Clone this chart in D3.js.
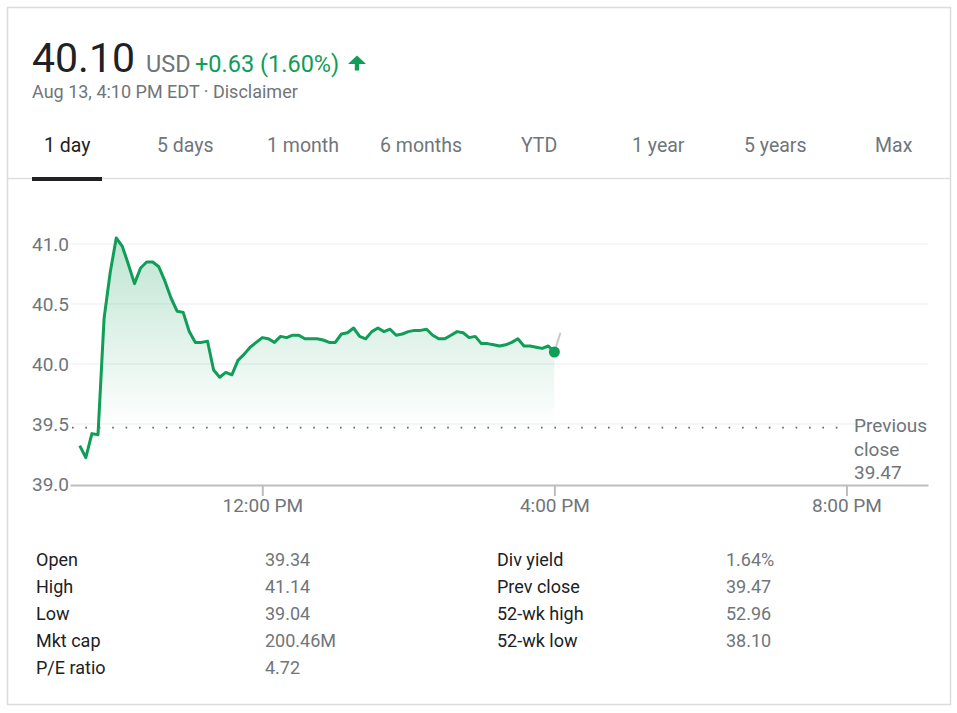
<!DOCTYPE html>
<html>
<head>
<meta charset="utf-8">
<script src="https://cdn.jsdelivr.net/npm/d3@7"></script>
<style>
  html, body { margin: 0; padding: 0; background: #fff; }
  svg { display: block; font-family: Roboto, "Noto Sans", Arial, sans-serif; }
</style>
</head>
<body>
<svg id="chart" width="957" height="713"></svg>
<script>
// ---------- DATA ----------
const quotePrice = "40.10";
const quoteCurrency = "USD";
const quoteChange = "+0.63 (1.60%)";
const quoteTime = "Aug 13, 4:10 PM EDT · Disclaimer";
const tabs = ["1 day", "5 days", "1 month", "6 months", "YTD", "1 year", "5 years", "Max"];

const times = ["09:30","09:35","09:40","09:45","09:50","09:55","10:00","10:05","10:10","10:15",
  "10:20","10:25","10:30","10:35","10:40","10:45","10:50","10:55","11:00","11:05",
  "11:10","11:15","11:20","11:25","11:30","11:35","11:40","11:45","11:50","11:55",
  "12:00","12:05","12:10","12:15","12:20","12:25","12:30","12:35","12:40","12:45",
  "12:50","12:55","13:00","13:05","13:10","13:15","13:20","13:25","13:30","13:35",
  "13:40","13:45","13:50","13:55","14:00","14:05","14:10","14:15","14:20","14:25",
  "14:30","14:35","14:40","14:45","14:50","14:55","15:00","15:05","15:10","15:15",
  "15:20","15:25","15:30","15:35","15:40","15:45","15:50","15:55","16:00"];
const prices = [39.32,39.22,39.42,39.41,40.38,40.76,41.05,40.98,40.83,40.67,
  40.80,40.85,40.85,40.81,40.69,40.55,40.44,40.43,40.27,40.18,
  40.18,40.19,39.95,39.89,39.93,39.91,40.03,40.08,40.14,40.18,
  40.22,40.21,40.18,40.23,40.22,40.24,40.24,40.21,40.21,40.21,
  40.20,40.18,40.18,40.25,40.26,40.30,40.23,40.21,40.27,40.30,
  40.27,40.29,40.24,40.25,40.27,40.28,40.28,40.29,40.24,40.21,
  40.21,40.24,40.27,40.26,40.22,40.23,40.17,40.17,40.16,40.15,
  40.16,40.18,40.21,40.15,40.15,40.14,40.13,40.15,40.10];
const afterTimes = ["16:00","16:05"];
const afterPrices = [40.10, 40.26];
const prevClose = 39.47;
const yTicks = [39.0, 39.5, 40.0, 40.5, 41.0];
const xTicks = ["12:00","16:00","20:00"];
const xDomain = ["09:22","21:07"];

const statsLeftLabels = ["Open","High","Low","Mkt cap","P/E ratio"];
const statsLeftValues = ["39.34","41.14","39.04","200.46M","4.72"];
const statsRightLabels = ["Div yield","Prev close","52-wk high","52-wk low"];
const statsRightValues = ["1.64%","39.47","52.96","38.10"];

// ---------- HELPERS ----------
const parseT = t => d3.timeParse("%Y-%m-%d %H:%M")("2019-08-13 " + t);
const green = "#0f9d58", gray = "#70757a", dark = "#202124";

const svg = d3.select("#chart");

// Card border
svg.append("rect").attr("x", 7.5).attr("y", 7.5).attr("width", 943).attr("height", 697)
  .attr("fill", "none").attr("stroke", "#dadce0").attr("stroke-width", 1.5);

// ---------- HEADER ----------
svg.append("text").attr("x", 32).attr("y", 72).attr("font-size", 41).attr("fill", dark).text(quotePrice);
svg.append("text").attr("x", 146).attr("y", 72).attr("font-size", 23.5).attr("fill", gray).text(quoteCurrency);
svg.append("text").attr("x", 195).attr("y", 72).attr("font-size", 23.5).attr("fill", green).text(quoteChange);
svg.append("path").attr("d", "M348,64 L357,55.5 L366,64 L359.2,64 L359.2,70.5 L354.8,70.5 L354.8,64 Z").attr("fill", green);
svg.append("text").attr("x", 32).attr("y", 98).attr("font-size", 18).attr("fill", gray).text(quoteTime);

// ---------- TABS ----------
const tabX = [44, 157, 267, 380, 521, 632, 744, 875];
svg.selectAll("text.tab").data(tabs).join("text").attr("class", "tab")
  .attr("x", (d, i) => tabX[i]).attr("y", 152).attr("font-size", 19.5)
  .attr("fill", (d, i) => i === 0 ? dark : gray).text(d => d);
svg.append("line").attr("x1", 8).attr("x2", 950).attr("y1", 178.5).attr("y2", 178.5)
  .attr("stroke", "#e0e0e0").attr("stroke-width", 1.5);
svg.append("rect").attr("x", 32).attr("y", 177).attr("width", 70).attr("height", 4).attr("fill", dark);

// ---------- CHART ----------
const x = d3.scaleTime().domain(xDomain.map(parseT)).range([70, 928]);
const y = d3.scaleLinear().domain([39, 41]).range([484, 244]);

const data = times.map((t, i) => ({ t: parseT(t), v: prices[i] }));
const after = afterTimes.map((t, i) => ({ t: parseT(t), v: afterPrices[i] }));

// gridlines
svg.append("g").selectAll("line").data(yTicks.filter(d => d > 39)).join("line")
  .attr("x1", 70).attr("x2", 928).attr("y1", d => y(d)).attr("y2", d => y(d))
  .attr("stroke", "#f1f3f4").attr("stroke-width", 1.5);

// y labels
svg.append("g").selectAll("text").data(yTicks).join("text")
  .attr("x", 32).attr("y", d => y(d) + 7).attr("font-size", 19).attr("fill", gray)
  .text(d => d3.format(".1f")(d));

// gradient
const defs = svg.append("defs");
const grad = defs.append("linearGradient").attr("id", "fillGrad")
  .attr("gradientUnits", "userSpaceOnUse")
  .attr("x1", 0).attr("x2", 0).attr("y1", y(d3.max(prices))).attr("y2", y(prevClose));
grad.append("stop").attr("offset", 0).attr("stop-color", green).attr("stop-opacity", 0.27);
grad.append("stop").attr("offset", 1).attr("stop-color", green).attr("stop-opacity", 0.0);

svg.append("path").datum(data)
  .attr("d", d3.area().x(d => x(d.t)).y0(y(prevClose)).y1(d => y(d.v)))
  .attr("fill", "url(#fillGrad)");

// previous close dotted line
svg.append("line").attr("x1", 72).attr("x2", x(parseT("20:00")) - 1)
  .attr("y1", y(prevClose)).attr("y2", y(prevClose))
  .attr("stroke", "#5f6368").attr("stroke-width", 1.6).attr("stroke-dasharray", "1.6 11.8");

// x axis
const xAxis = d3.axisBottom(x).tickValues(xTicks.map(parseT))
  .tickFormat(d3.timeFormat("%-I:%M %p")).tickSize(11).tickSizeOuter(0).tickPadding(3);
const gx = svg.append("g").attr("transform", "translate(0,485)").call(xAxis);
gx.select(".domain").attr("stroke", "#bdbdbd").attr("stroke-width", 2);
gx.selectAll(".tick line").attr("stroke", "#bdbdbd").attr("stroke-width", 2);
gx.selectAll(".tick text").attr("font-size", 19).attr("fill", gray)
  .attr("font-family", "Roboto, 'Noto Sans', Arial, sans-serif");

// previous close label
const pcl = svg.append("text").attr("x", 854).attr("font-size", 19).attr("fill", gray);
["Previous", "close", d3.format(".2f")(prevClose)].forEach((s, i) => {
  pcl.append("tspan").attr("x", 854).attr("y", 432 + i * 23.5).text(s);
});

// after hours line
svg.append("path").datum(after)
  .attr("d", d3.line().x(d => x(d.t)).y(d => y(d.v)))
  .attr("fill", "none").attr("stroke", "#c8c8c8").attr("stroke-width", 2);

// price line
svg.append("path").datum(data)
  .attr("d", d3.line().x(d => x(d.t)).y(d => y(d.v)))
  .attr("fill", "none").attr("stroke", green).attr("stroke-width", 3)
  .attr("stroke-linejoin", "round");

// end dot
const last = data[data.length - 1];
svg.append("circle").attr("cx", x(last.t)).attr("cy", y(last.v)).attr("r", 5.5).attr("fill", green);

// ---------- STATS ----------
const rowY = i => 566 + i * 27;
const stats = svg.append("g").attr("font-size", 18);
stats.selectAll("text.ll").data(statsLeftLabels).join("text").attr("class", "ll")
  .attr("x", 36).attr("y", (d, i) => rowY(i)).attr("fill", dark).text(d => d);
stats.selectAll("text.lv").data(statsLeftValues).join("text").attr("class", "lv")
  .attr("x", 265).attr("y", (d, i) => rowY(i)).attr("fill", gray).text(d => d);
stats.selectAll("text.rl").data(statsRightLabels).join("text").attr("class", "rl")
  .attr("x", 497).attr("y", (d, i) => rowY(i)).attr("fill", dark).text(d => d);
stats.selectAll("text.rv").data(statsRightValues).join("text").attr("class", "rv")
  .attr("x", 726).attr("y", (d, i) => rowY(i)).attr("fill", gray).text(d => d);
</script>
</body>
</html>
